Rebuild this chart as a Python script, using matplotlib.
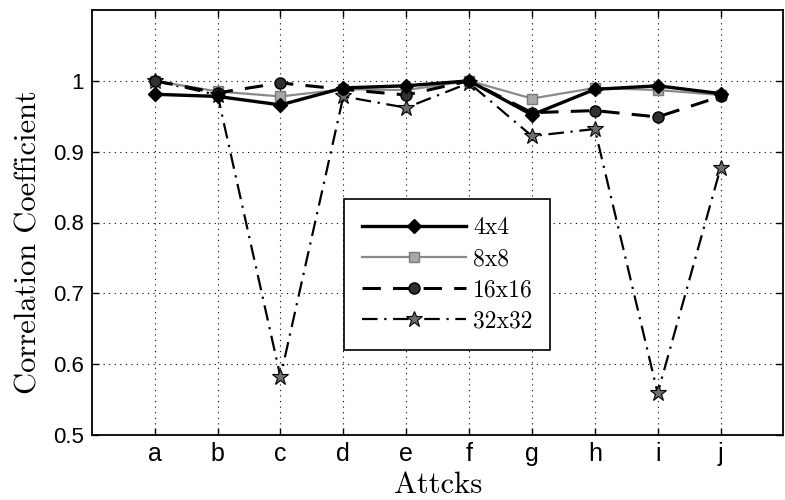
"""Correlation coefficient per attack for several block sizes."""

import matplotlib
matplotlib.use('Agg')
import matplotlib.pyplot as plt


ATTACKS = ['a', 'b', 'c', 'd', 'e', 'f', 'g', 'h', 'i', 'j']
POSITIONS = list(range(1, len(ATTACKS) + 1))

CORR_4X4 = [0.981, 0.978, 0.966, 0.990, 0.993, 1.000, 0.952, 0.988, 0.993, 0.982]
CORR_8X8 = [1.000, 0.985, 0.978, 0.988, 0.987, 1.000, 0.975, 0.990, 0.987, 0.980]
CORR_16X16 = [1.000, 0.983, 0.997, 0.988, 0.980, 1.000, 0.955, 0.958, 0.949, 0.978]
CORR_32X32 = [1.000, 0.980, 0.582, 0.978, 0.962, 0.997, 0.922, 0.932, 0.559, 0.877]

Y_TICKS = [0.5, 0.6, 0.7, 0.8, 0.9, 1.0]
Y_TICK_LABELS = ['0.5', '0.6', '0.7', '0.8', '0.9', '1']

# labels in the source look like Computer Modern, ticks like Helvetica
SERIF = ['cmr10', 'DejaVu Serif']
SANS = ['Liberation Sans', 'DejaVu Sans']


def main():
    fig = plt.figure(figsize=(7.85, 5.0), dpi=100)
    ax = fig.add_axes([0.117, 0.13, 0.881, 0.85])

    ax.plot(POSITIONS, CORR_4X4, color='black', linewidth=2.4,
            marker='D', markersize=7, markerfacecolor='black',
            markeredgecolor='black', label='4x4', zorder=4)
    ax.plot(POSITIONS, CORR_8X8, color='#8a8a8a', linewidth=1.6,
            marker='s', markersize=7, markerfacecolor='#a8a8a8',
            markeredgecolor='#7a7a7a', label='8x8', zorder=3)
    ax.plot(POSITIONS, CORR_16X16, color='black', linewidth=2.2,
            linestyle=(0, (6, 4)), marker='o', markersize=8,
            markerfacecolor='#303030', markeredgecolor='black',
            label='16x16', zorder=3)
    ax.plot(POSITIONS, CORR_32X32, color='black', linewidth=1.6,
            linestyle=(0, (7, 3, 1, 3)), marker='*', markersize=12,
            markerfacecolor='#6e6e6e', markeredgecolor='black',
            markeredgewidth=0.8, label='32x32', zorder=2)

    ax.set_xlim(0, 11)
    ax.set_ylim(0.5, 1.1)
    ax.set_xticks(POSITIONS)
    ax.set_xticklabels(ATTACKS, family=SANS, fontsize=18)
    ax.set_yticks(Y_TICKS)
    ax.set_yticklabels(Y_TICK_LABELS, family=SANS, fontsize=16)
    ax.tick_params(direction='in', top=True, right=True, length=5,
                   width=1.0)
    ax.tick_params(axis='x', pad=5)
    ax.tick_params(axis='y', pad=6)

    ax.grid(True, linestyle=(0, (1, 4)), color='black', linewidth=0.8)
    for spine in ax.spines.values():
        spine.set_linewidth(1.3)

    ax.set_xlabel('Attcks', family=SERIF, fontsize=22, labelpad=4)
    ax.set_ylabel('Correlation Coefficient', family=SERIF, fontsize=22)
    ax.yaxis.set_label_coords(-0.072, 0.455)

    legend = ax.legend(loc='lower left', bbox_to_anchor=(0.365, 0.2),
                       prop={'family': SERIF, 'size': 17}, fancybox=False,
                       framealpha=1.0, edgecolor='black', handlelength=4.4,
                       handletextpad=0.3, labelspacing=0.38, borderpad=0.75,
                       borderaxespad=0.0)
    legend.get_frame().set_linewidth(1.2)

    fig.savefig('out.png', dpi=100)


if __name__ == '__main__':
    main()
